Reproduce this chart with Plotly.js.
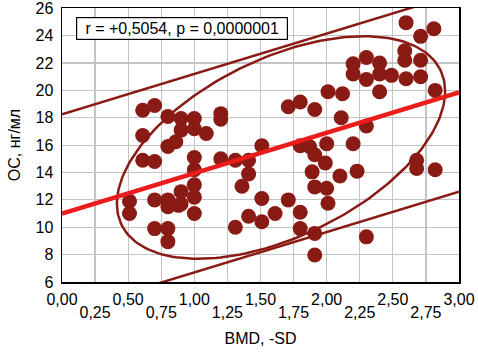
<!DOCTYPE html>
<html>
<head>
<meta charset="utf-8">
<script src="https://cdn.plot.ly/plotly-3.0.1.min.js"></script>
<style>html,body{margin:0;padding:0;background:#fff;}#chart{width:478px;height:354px;}</style>
</head>
<body>
<div id="chart"></div>
<script>
// Data
const bmd = [0.51,0.51,0.61,0.70,0.61,0.61,0.70,0.70,0.70,0.80,0.80,0.80,0.80,0.86,0.90,1.00,0.90,1.00,1.09,0.80,0.80,0.88,0.90,1.00,1.00,1.00,1.00,1.00,0.90,
  1.20,1.20,1.20,1.31,1.41,1.41,1.36,1.31,1.41,1.51,1.51,1.51,1.61,1.71,1.71,1.80,1.91,1.80,1.87,1.91,2.00,1.99,1.89,1.91,2.00,2.01,1.80,1.80,1.91,1.91,2.10,2.23,2.20,2.11,2.01,2.12,2.30,2.30,
  2.20,2.30,2.40,2.20,2.30,2.40,2.49,2.60,2.71,2.59,2.59,2.71,2.40,2.82,2.60,2.81,2.71,2.68,2.68,2.82];
const oc  = [11.9,11.0,18.55,18.9,16.7,14.9,14.8,12.0,9.9,9.9,8.95,18.1,15.9,16.25,17.95,17.95,17.1,17.2,16.85,12.0,11.5,11.6,12.6,13.1,12.2,11.0,14.2,15.1,11.7,
  18.3,17.9,15.0,14.9,14.9,13.9,13.0,10.0,10.8,10.4,12.1,15.95,11.0,12.0,18.8,19.15,18.6,15.95,15.9,15.3,16.1,14.7,14.05,12.95,12.85,11.75,11.1,9.9,9.55,7.97,13.75,14.1,16.1,18.0,19.9,19.75,17.4,9.3,
  21.95,22.4,22.0,21.2,20.8,21.2,21.1,20.85,21.0,22.9,22.2,22.2,19.9,20.0,24.95,24.5,23.95,14.9,14.3,14.2];

// Fit / annotation values
const fitIntercept = 11.0, fitSlope = 2.95, bandHalf = 7.25;
const rValue = 0.5054;
const statLabel = "r = +0,5054, p = 0,0000001";
const ellCenter = [1.655, 15.83], ellHalfX = 1.24, ellHalfY = 8.13;

const majorTicks = [0,0.5,1,1.5,2,2.5,3];
const majorText = ["0,00","0,50","1,00","1,50","2,00","2,50","3,00"];
const minorTicks = [0.25,0.75,1.25,1.75,2.25,2.75];
const minorText = ["0,25","0,75","1,25","1,75","2,25","2,75"];
const yTicks = [6,8,10,12,14,16,18,20,22,24,26];

const xRange = [0,3], yRange = [6,26];
const fx = [xRange[0], xRange[1]];
const line = (off) => fx.map(x => fitIntercept + off + fitSlope*x);

const delta = Math.acos(rValue);
const ex = [], ey = [];
for (let i = 0; i <= 200; i++) {
  const t = 2*Math.PI*i/200;
  ex.push(ellCenter[0] + ellHalfX*Math.cos(t));
  ey.push(ellCenter[1] + ellHalfY*Math.cos(t - delta));
}

const dark = '#8a1a14';
const font = "'Liberation Sans', Arial, sans-serif";

const traces = [
  {x: fx, y: [null, null], xaxis: 'x2', mode: 'lines', hoverinfo: 'none', showlegend: false},
  {x: bmd, y: oc, mode: 'markers', type: 'scatter', marker: {size: 15, color: dark}, hoverinfo: 'none'},
  {x: ex, y: ey, mode: 'lines', line: {color: dark, width: 2.5}, hoverinfo: 'none'},
  {x: fx, y: line(bandHalf), mode: 'lines', line: {color: dark, width: 2.5}, hoverinfo: 'none'},
  {x: fx, y: line(-bandHalf), mode: 'lines', line: {color: dark, width: 2.5}, hoverinfo: 'none'},
  {x: fx, y: line(0), mode: 'lines', line: {color: '#ea1c1c', width: 4.5}, hoverinfo: 'none'}
];

const layout = {
  width: 478, height: 354,
  margin: {l: 62, r: 19, t: 8, b: 72},
  paper_bgcolor: '#fff', plot_bgcolor: '#fff',
  showlegend: false,
  font: {family: font, size: 16, color: '#000'},
  xaxis: {range: xRange, tickvals: majorTicks, ticktext: majorText, showgrid: true, gridcolor: '#c4c4c4', gridwidth: 1.2,
    zeroline: false, showline: true, linecolor: '#000', linewidth: 1.5, mirror: true, ticks: '', ticklabelstandoff: 2,
    tickfont: {family: font, size: 16}, ticklabeloverflow: 'allow',
    title: {text: 'BMD, -SD', font: {family: font, size: 16}, standoff: 26}},
  xaxis2: {range: xRange, overlaying: 'x', side: 'bottom', anchor: 'y', tickvals: minorTicks, ticktext: minorText, showgrid: true, gridcolor: '#c4c4c4', gridwidth: 1.2,
    zeroline: false, showline: false, ticks: '', ticklabelstandoff: 19, tickfont: {family: font, size: 16}, ticklabeloverflow: 'allow'},
  yaxis: {range: [yRange[0], yRange[1] + 0.02], tickvals: yTicks, ticktext: yTicks.map(String), showgrid: true, gridcolor: '#c4c4c4', gridwidth: 1.2,
    zeroline: false, showline: true, linecolor: '#000', linewidth: 1.5, mirror: true, ticks: '', ticklabelstandoff: 4,
    tickfont: {family: font, size: 16}, ticklabeloverflow: 'allow',
    title: {text: 'ОС, нг/мл', font: {family: font, size: 16}, standoff: 11}},
  annotations: [{
    xref: 'paper', yref: 'paper', x: (182-62)/397, y: (282-28.5)/274, xanchor: 'center', yanchor: 'middle',
    text: statLabel, showarrow: false, font: {family: font, size: 16, color: '#000'},
    bgcolor: '#fff', bordercolor: '#000', borderwidth: 1.2, width: 208, height: 19, borderpad: 1
  }]
};

Plotly.newPlot('chart', traces, layout, {staticPlot: true, displayModeBar: false});
</script>
</body>
</html>
